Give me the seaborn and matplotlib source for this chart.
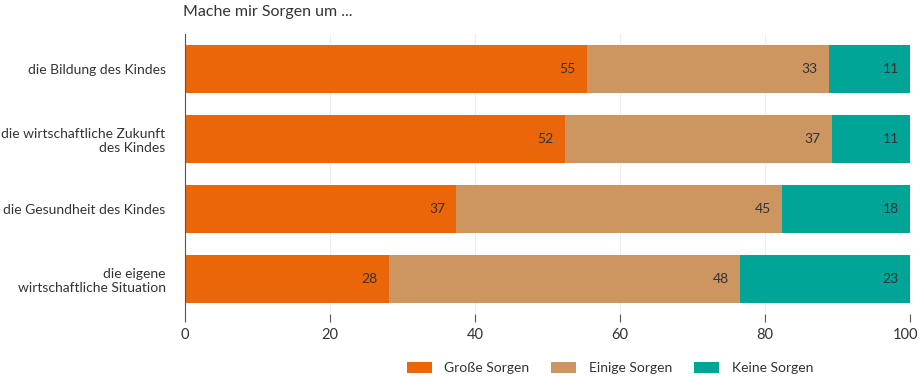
import numpy as np
import pandas as pd
import matplotlib.pyplot as plt
import matplotlib.transforms as mtransforms
import seaborn as sns
from matplotlib.patches import Patch

# Daten (Anteile in %)
kategorien = ["die Bildung des Kindes",
              "die wirtschaftliche Zukunft\ndes Kindes",
              "die Gesundheit des Kindes",
              "die eigene\nwirtschaftliche Situation"]
grosse = [55.4, 52.4, 37.4, 28.1]
einige = [33.4, 36.8, 44.9, 48.4]
keine = [11.2, 10.8, 17.7, 23.5]
lab_grosse = [55, 52, 37, 28]
lab_einige = [33, 37, 45, 48]
lab_keine = [11, 11, 18, 23]
x_ticks = [0, 20, 40, 60, 80, 100]

serien = ["Große Sorgen", "Einige Sorgen", "Keine Sorgen"]
farben = ["#EB6608", "#CD9660", "#00A598"]
TEXTFARBE = "#333333"

sns.set_theme(style="white")
plt.rcParams['font.family'] = ['Lato', 'DejaVu Sans']

df = pd.DataFrame({"kat": kategorien, "g": grosse, "e": einige, "k": keine})
df["cum_g"] = df["g"]
df["cum_e"] = df["g"] + df["e"]
df["cum_k"] = df["g"] + df["e"] + df["k"]

fig = plt.figure(figsize=(9.2, 3.78), dpi=100)
ax = fig.add_axes([185/920, 1 - 314/378, (910 - 185)/920, 280/378])

# gestapelte Balken: von der Gesamtsumme nach unten zeichnen
for col, farbe in zip(["cum_k", "cum_e", "cum_g"], farben[::-1]):
    sns.barplot(data=df, x=col, y="kat", color=farbe, width=0.69,
                orient="h", ax=ax, saturation=1, edgecolor="none")

# Werte rechtsbündig am Ende jedes Segments
for i in range(len(kategorien)):
    for ende, txt in zip([df["cum_g"][i], df["cum_e"][i], df["cum_k"][i]],
                         [lab_grosse[i], lab_einige[i], lab_keine[i]]):
        ax.annotate(str(txt), xy=(ende, i), xytext=(-8, 0), textcoords="offset points",
                    ha="right", va="center", fontsize=10, color=TEXTFARBE)

ax.set_xlim(0, 100)
ax.set_ylim(3.5, -0.5)
ax.set_xticks(x_ticks)
ax.set_xlabel("")
ax.set_ylabel("")
ax.xaxis.grid(True, color="#EEEEEE", linewidth=0.8)
ax.set_axisbelow(True)
for s in ["top", "right", "bottom"]:
    ax.spines[s].set_visible(False)
ax.spines["left"].set_color("#555555")
ax.spines["left"].set_linewidth(0.8)
ax.tick_params(axis="x", bottom=True, length=6, width=0.8, color="#555555",
               labelsize=10.5, labelcolor=TEXTFARBE, pad=4)
ax.tick_params(axis="y", left=False, length=0, labelsize=10,
               labelcolor=TEXTFARBE, pad=14)
for t in ax.get_yticklabels():
    t.set_multialignment("right")

# letzte Beschriftung etwas nach links, damit sie nicht abgeschnitten wird
letzte = ax.get_xticklabels()[-1]
letzte.set_transform(letzte.get_transform() +
                     mtransforms.ScaledTranslation(-4/100, 0, fig.dpi_scale_trans))

fig.text(183/920, 1 - 12/378, "Mache mir Sorgen um ...", ha="left", va="center",
         fontsize=11.5, color=TEXTFARBE)

handles = [Patch(facecolor=f, edgecolor="none") for f in farben]
fig.legend(handles, serien, loc="center", bbox_to_anchor=(610/920, 1 - 368/378),
           ncol=3, frameon=False, fontsize=10, handlelength=1.8, handleheight=0.9,
           columnspacing=1.6, handletextpad=0.9, labelcolor=TEXTFARBE)

fig.savefig("out.png", dpi=100)
